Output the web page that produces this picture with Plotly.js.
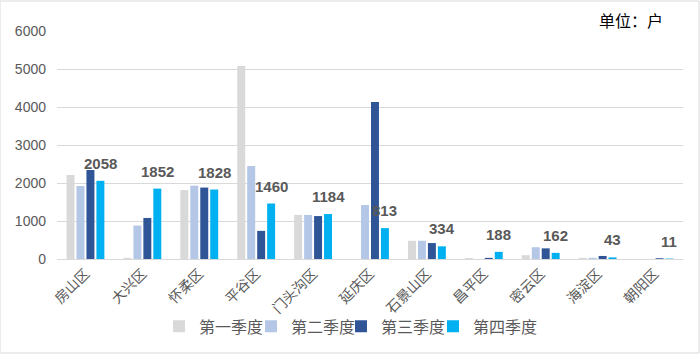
<!DOCTYPE html>
<html>
<head>
<meta charset="utf-8">
<script src="https://cdn.plot.ly/plotly-3.0.1.min.js"></script>
<style>html,body{margin:0;padding:0;background:#fff;}#chart{width:700px;height:354px;}</style>
</head>
<body>
<div id="chart"></div>
<script>
const categories = ["房山区","大兴区","怀柔区","平谷区","门头沟区","延庆区","石景山区","昌平区","密云区","海淀区","朝阳区"];
const seriesNames = ["第一季度","第二季度","第三季度","第四季度"];
const q1 = [2210, 30, 1815, 5080, 1160, 0, 480, 25, 100, 30, 0];
const q2 = [1920, 880, 1930, 2450, 1160, 1420, 480, 0, 310, 30, 0];
const q3 = [2340, 1080, 1880, 740, 1130, 4130, 420, 30, 280, 80, 20];
const q4 = [2058, 1852, 1828, 1460, 1184, 813, 334, 188, 162, 43, 11];
const colors = ["#d9d9d9","#b4c7e7","#2f5597","#00b0f0"];

const font = "Liberation Sans, Arial, Noto Sans CJK SC, sans-serif";
const cjk = "Noto Sans CJK SC, Liberation Sans, sans-serif";
const allSeries = [q1,q2,q3,q4];
const legendIds = ["legend","legend2","legend3","legend4"];
const traces = allSeries.map((vals,i)=>({
  type:"bar", x:categories, y:vals, name:seriesNames[i],
  marker:{color:colors[i]}, hoverinfo:"none",
  legend: legendIds[i]
}));

const plotW = 626;
const catW = plotW / categories.length;
const bargap = 0.3;
const slot = catW*(1-bargap)/4;
const annotations = categories.map((c,i)=>({
  x:c, y:q4[i], xref:"x", yref:"y", text:String(q4[i]),
  showarrow:false, yanchor:"bottom", xanchor:"center",
  xshift: slot*1.5, yshift: 7,
  font:{family:font, size:15, color:"#595959", weight:"bold"}
}));
annotations.push({
  xref:"paper", yref:"paper", x:1, y:1, xanchor:"right", yanchor:"middle",
  yshift:11, xshift:-18, showarrow:false, text:"单位：户",
  font:{family:cjk, size:16, color:"#000"}
});

const legendLefts = [159, 251, 341, 433];
const legendCommon = {orientation:"h", xref:"container", yref:"container", xanchor:"left", y:0.126, yanchor:"top",
    font:{family:cjk, size:16, color:"#595959"}, itemwidth:30, tracegroupgap:0, bgcolor:"rgba(0,0,0,0)"};

const layout = {
  width:700, height:354,
  margin:{l:57, r:17, t:31, b:95},
  paper_bgcolor:"#fff", plot_bgcolor:"#fff",
  barmode:"group", bargap:bargap, bargroupgap:0.2,
  showlegend:true,
  xaxis:{type:"category", tickangle:-45, tickfont:{family:cjk, size:14, color:"#595959"},
    showline:true, linecolor:"#d9d9d9", linewidth:1, ticks:"", showgrid:false, fixedrange:true, automargin:false},
  yaxis:{range:[0,6000], dtick:1000, tickfont:{family:font, size:14, color:"#595959"},
    gridcolor:"#d9d9d9", gridwidth:1, zeroline:false, showline:false, ticks:"", ticklen:0,
    ticklabelstandoff:10, fixedrange:true, automargin:false},
  annotations:annotations,
  shapes:[{type:"rect", xref:"paper", yref:"paper", x0:-57/626, x1:1+16/626, y0:-94/228, y1:1+30/228,
    line:{color:"#d9d9d9", width:1}, fillcolor:"rgba(0,0,0,0)", layer:"below"}]
};
legendIds.forEach((id,i)=>{ layout[id] = Object.assign({}, legendCommon, {x:legendLefts[i]/700}); });
Plotly.newPlot("chart", traces, layout, {displayModeBar:false, staticPlot:true});
</script>
</body>
</html>
